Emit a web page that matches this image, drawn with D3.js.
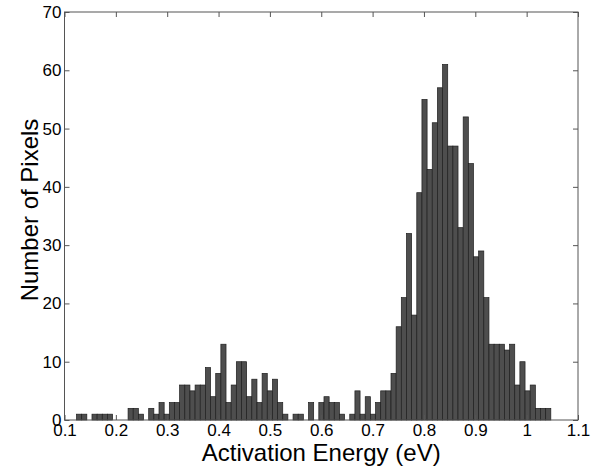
<!DOCTYPE html>
<html>
<head>
<meta charset="utf-8">
<script src="https://cdn.jsdelivr.net/npm/d3@7"></script>
<style>
  body { margin: 0; background: #fff; }
  text { font-family: "Liberation Sans", Arial, sans-serif; }
</style>
</head>
<body>
<div id="chart"></div>
<script>
    // histogram bins: start of first bin, bin width, counts per bin
    var binStart = 0.1234;
    var binWidth = 0.01004;
    var counts = [
        1, 1, 0, 1, 1, 1, 1, 0, 0, 0,
        2, 2, 1, 0, 2, 1, 3, 1, 3, 3,
        6, 6, 5, 6, 6, 9, 4, 8, 13, 3,
        6, 10, 10, 4, 7, 3, 8, 5, 7, 3,
        1, 0, 1, 1, 0, 3, 0, 3, 4, 3,
        3, 1, 0, 1, 5, 1, 4, 1, 3, 5,
        5, 8, 16, 21, 32, 18, 39, 55, 43, 51,
        57, 61, 47, 47, 33, 52, 44, 28, 29, 21,
        13, 13, 13, 12, 13, 6, 10, 5, 6, 2,
        2, 2
    ];
    var xTicks = [0.1, 0.2, 0.3, 0.4, 0.5, 0.6, 0.7, 0.8, 0.9, 1, 1.1];
    var yTicks = [0, 10, 20, 30, 40, 50, 60, 70];
    var xTitle = 'Activation Energy (eV)';
    var yTitle = 'Number of Pixels';

    var w = 600;
    var h = 470;
    var margin = {top: 12, right: 22, bottom: 50, left: 64.5};
    var innerW = w - margin.left - margin.right,
        innerH = h - margin.top - margin.bottom;

    var bins = counts.map(function(c, i) {
        return {x0: binStart + i * binWidth, x1: binStart + (i + 1) * binWidth, count: c};
    });

    var x = d3.scaleLinear()
              .domain([0.1, 1.1])
              .range([0, innerW]);
    var y = d3.scaleLinear()
              .domain([0, 70])
              .range([innerH, 0]);

    var svg = d3.select('#chart').append('svg')
                .attr('width', w)
                .attr('height', h)
                .append('g')
                .attr('transform', 'translate(' + [margin.left, margin.top] + ')');

    // bars
    svg.selectAll('.bar')
       .data(bins.filter(function(d) { return d.count > 0; }))
       .enter().append('rect')
       .attr('class', 'bar')
       .attr('x', function(d) { return x(d.x0); })
       .attr('y', function(d) { return y(d.count); })
       .attr('width', function(d) { return x(d.x1) - x(d.x0); })
       .attr('height', function(d) { return innerH - y(d.count); })
       .style('fill', '#4e4e4e')
       .style('stroke', '#1e1e1e')
       .style('stroke-width', 0.7);

    // axes, ticks pointing inward
    var xAxis = d3.axisBottom(x)
                  .tickValues(xTicks)
                  .tickFormat(function(d) { return String(d); })
                  .tickSizeInner(-5)
                  .tickSizeOuter(0)
                  .tickPadding(4);
    var yAxis = d3.axisLeft(y)
                  .tickValues(yTicks)
                  .tickSizeInner(-5)
                  .tickSizeOuter(0)
                  .tickPadding(3);

    var gx = svg.append('g')
        .attr('class', 'x axis')
        .attr('transform', 'translate(' + [0, innerH] + ')')
        .call(xAxis);
    var gy = svg.append('g')
        .attr('class', 'y axis')
        .call(yAxis);
    var gt = svg.append('g')
        .call(d3.axisTop(x).tickValues(xTicks).tickFormat('').tickSizeInner(-5).tickSizeOuter(0));
    var gr = svg.append('g')
        .attr('transform', 'translate(' + [innerW, 0] + ')')
        .call(d3.axisRight(y).tickValues(yTicks).tickFormat('').tickSizeInner(-5).tickSizeOuter(0));

    [gx, gy, gt, gr].forEach(function(g) {
        g.select('.domain').remove();
        g.selectAll('line').style('stroke', '#555');
    });
    gx.selectAll('text').style('font-size', '17px').style('fill', '#000');
    gy.selectAll('text').style('font-size', '17px').style('fill', '#000');

    // box
    svg.append('rect')
       .attr('width', innerW)
       .attr('height', innerH)
       .style('fill', 'none')
       .style('stroke', '#555')
       .style('stroke-width', 1);

    svg.append('text')
       .attr('x', innerW / 2)
       .attr('y', innerH + 41)
       .attr('text-anchor', 'middle')
       .style('font-size', '24px')
       .text(xTitle);

    svg.append('text')
       .attr('transform', 'translate(' + [-27, innerH / 2 - 6] + ') rotate(-90)')
       .attr('text-anchor', 'middle')
       .style('font-size', '24px')
       .text(yTitle);
</script>
</body>
</html>
